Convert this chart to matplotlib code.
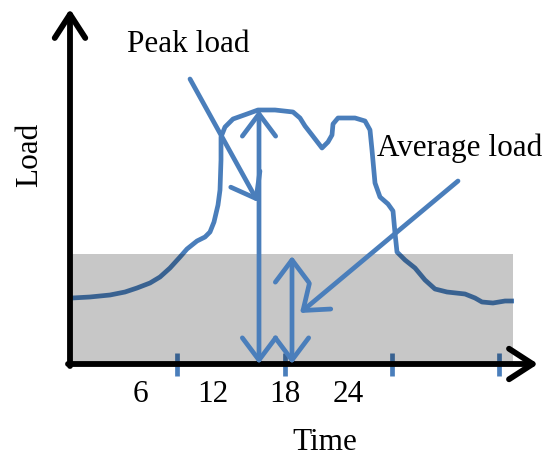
import matplotlib
matplotlib.use('Agg')

import matplotlib.pyplot as plt
from matplotlib.patches import Rectangle

# Load profile (origin at the corner of the axes, arbitrary units)
time = [2, 20, 40, 55, 67, 80, 90, 100, 110, 117, 127, 135, 140, 144, 148, 150,
        151, 151, 155, 163, 177, 188, 205, 223, 230, 235, 242, 252, 258, 262,
        263, 268, 285, 295, 300, 302, 305, 310, 318, 323, 325, 327, 335, 345,
        355, 365, 377, 395, 405, 412, 423, 435, 444]
load = [66, 67, 69, 72, 76, 81, 87, 96, 107, 115, 123, 127, 132, 142, 159, 174,
        204, 227, 237, 245, 250, 254, 254, 252, 246, 238, 229, 216, 222, 229,
        240, 246, 246, 243, 234, 214, 181, 167, 160, 153, 131, 112, 104, 96,
        84, 75, 72, 70, 66, 62, 61, 63, 63]

avg_load = 110
peak_time = 189
avg_time = 222
tick_pos = [107, 215, 322, 429]
tick_labels = ['6', '12', '18', '24']
tick_label_pos = [70, 143, 215, 278]

blue = '#4a7ebb'
font = {'family': 'Liberation Serif', 'size': 22.5}

fig = plt.figure(figsize=(5.58, 4.58), dpi=100)
ax = fig.add_axes([0, 0, 1, 1])
ax.set_xlim(-70, 488)
ax.set_ylim(-94, 364)
ax.axis('off')

# load curve and ticks (under the shaded band)
ax.plot(time, load, color=blue, lw=3.4, solid_joinstyle='round',
        solid_capstyle='butt', zorder=2)
for t in tick_pos:
    ax.plot([t, t], [-12, 11], color=blue, lw=3.4, solid_capstyle='butt', zorder=2)

# average load band
ax.add_patch(Rectangle((2, 0), 441, avg_load, facecolor='black', alpha=0.22,
                       edgecolor='none', zorder=3))

# axes with arrow heads
axis_kw = dict(arrowstyle='->,head_length=0.85,head_width=0.55', lw=4.2,
               color='black', shrinkA=0, shrinkB=0, mutation_scale=20)
ax.annotate('', xy=(0, 355), xytext=(0, -2), arrowprops=axis_kw, zorder=4)
ax.annotate('', xy=(468, 0), xytext=(-2, 0), arrowprops=axis_kw, zorder=4)

# peak / average markers
dbl = dict(arrowstyle='<->,head_length=0.8,head_width=0.6', lw=3.4,
           color=blue, shrinkA=0, shrinkB=0, mutation_scale=20)
ax.annotate('', xy=(peak_time, 254), xytext=(peak_time, 0), arrowprops=dbl, zorder=5)
ax.annotate('', xy=(avg_time, 108), xytext=(avg_time, 0), arrowprops=dbl, zorder=5)

single = dict(arrowstyle='->,head_length=0.8,head_width=0.6', lw=3.4,
              color=blue, shrinkA=0, shrinkB=0, mutation_scale=20)
ax.annotate('', xy=(188, 162), xytext=(120, 285), arrowprops=single, zorder=5)
ax.annotate('', xy=(230, 51), xytext=(388, 183), arrowprops=single, zorder=5)

# texts
ax.text(118, 319, 'Peak load', ha='center', va='center', **font)
ax.text(390, 216, 'Average load', ha='center', va='center', **font)
ax.text(-40, 209, 'Load', ha='center', va='center', rotation=90, **font)
ax.text(255, -79, 'Time', ha='center', va='center', **font)
for x, lab in zip(tick_label_pos, tick_labels):
    ax.text(x, -31, lab, ha='center', va='center', **font)

fig.savefig('out.png', dpi=100)
